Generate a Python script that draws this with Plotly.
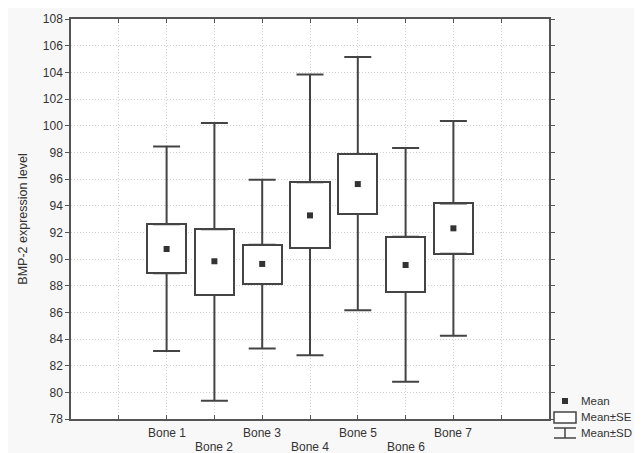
import plotly.graph_objects as go

categories = ["Bone 1", "Bone 2", "Bone 3", "Bone 4", "Bone 5", "Bone 6", "Bone 7"]
mean = [90.75, 89.83, 89.63, 93.27, 95.62, 89.55, 92.30]
se_low = [88.93, 87.30, 88.13, 90.82, 93.38, 87.53, 90.40]
se_high = [92.60, 92.23, 91.07, 95.75, 97.88, 91.67, 94.17]
sd_low = [83.10, 79.37, 83.28, 82.78, 86.15, 80.80, 84.25]
sd_high = [98.43, 100.20, 95.95, 103.83, 105.15, 98.33, 100.35]
y_ticks = list(range(78, 109, 2))

pos = [i + 2 for i in range(len(categories))]
dark = "#444444"

fig = go.Figure()

# Mean ± SE boxes
fig.add_trace(go.Bar(
    x=pos, y=[h - l for h, l in zip(se_high, se_low)], base=se_low,
    width=0.82, marker=dict(color="white", line=dict(color=dark, width=2)),
    hoverinfo="skip", showlegend=False))

# Upper SD whiskers (from box top)
fig.add_trace(go.Scatter(
    x=pos, y=se_high, mode="markers", marker=dict(size=1, color="rgba(0,0,0,0)"),
    error_y=dict(type="data", symmetric=False,
                 array=[s - h for s, h in zip(sd_high, se_high)],
                 arrayminus=[0] * len(pos), color=dark, thickness=2, width=13.5),
    hoverinfo="skip", showlegend=False))

# Lower SD whiskers (from box bottom)
fig.add_trace(go.Scatter(
    x=pos, y=se_low, mode="markers", marker=dict(size=1, color="rgba(0,0,0,0)"),
    error_y=dict(type="data", symmetric=False,
                 array=[0] * len(pos),
                 arrayminus=[l - s for l, s in zip(se_low, sd_low)],
                 color=dark, thickness=2, width=13.5),
    hoverinfo="skip", showlegend=False))

# Means
fig.add_trace(go.Scatter(
    x=pos, y=mean, mode="markers",
    marker=dict(symbol="square", size=6, color="#333333"),
    hoverinfo="skip", showlegend=False))

# Category labels (staggered two rows)
for i, (p, c) in enumerate(zip(pos, categories)):
    fig.add_annotation(x=p, xref="x", y=0, yref="paper", text=c, showarrow=False,
                       yanchor="top", yshift=-5 if i % 2 == 0 else -19,
                       font=dict(size=12, color="#333333"))

# Legend (manual), page pixel coords -> paper coords
W, H = 478.0, 400.0
def px(xp):
    return (xp - 71) / W
def py(yp):
    return (419 - yp) / H

shapes = []
shapes.append(dict(type="rect", xref="paper", yref="paper",
                   x0=px(562), x1=px(568), y0=py(404), y1=py(398),
                   fillcolor="#333333", line=dict(width=0)))
shapes.append(dict(type="rect", xref="paper", yref="paper",
                   x0=px(554), x1=px(576), y0=py(423), y1=py(412),
                   fillcolor="white", line=dict(color=dark, width=1.5)))
shapes.append(dict(type="line", xref="paper", yref="paper",
                   x0=px(554), x1=px(576), y0=py(428), y1=py(428),
                   line=dict(color=dark, width=1.5)))
shapes.append(dict(type="line", xref="paper", yref="paper",
                   x0=px(565), x1=px(565), y0=py(428), y1=py(438),
                   line=dict(color=dark, width=1.5)))
shapes.append(dict(type="line", xref="paper", yref="paper",
                   x0=px(554), x1=px(576), y0=py(438), y1=py(438),
                   line=dict(color=dark, width=1.5)))
for text, yp in [("Mean", 401), ("Mean±SE", 417), ("Mean±SD", 433)]:
    fig.add_annotation(x=px(579), y=py(yp), xref="paper", yref="paper", text=text,
                       showarrow=False, xanchor="left", yanchor="middle",
                       font=dict(size=11.5, color="#333333"))

# page body has an 8px margin: figure is 634x445 placed at (8, 8)
fig.update_layout(
    width=634, height=445,
    margin=dict(l=63, r=93, t=11, b=34, autoexpand=False),
    paper_bgcolor="#f8f8f8", plot_bgcolor="white",
    font=dict(family="Liberation Sans, Arial, sans-serif", size=12, color="#333333"),
    shapes=shapes,
    showlegend=False,
    bargap=0,
)
fig.update_xaxes(
    range=[0, 10], tickvals=list(range(1, 10)), ticktext=[""] * 9,
    showgrid=True, gridcolor="#d0d0d0", griddash="1px,2px", gridwidth=1,
    showline=True, linecolor="#555555", linewidth=1.5, mirror="ticks",
    ticks="inside", ticklen=4, tickcolor="#555555", zeroline=False)
fig.update_yaxes(
    range=[78, 108], tickvals=y_ticks,
    showgrid=True, gridcolor="#d0d0d0", griddash="1px,2px", gridwidth=1,
    showline=True, linecolor="#555555", linewidth=1.5, mirror="ticks",
    ticks="outside", ticklen=4, tickcolor="#555555", zeroline=False,
    title=dict(text="BMP-2 expression level", font=dict(size=12.5, color="#333333"), standoff=12),
    tickfont=dict(size=12, color="#333333"))

fig.write_html("out.html")
